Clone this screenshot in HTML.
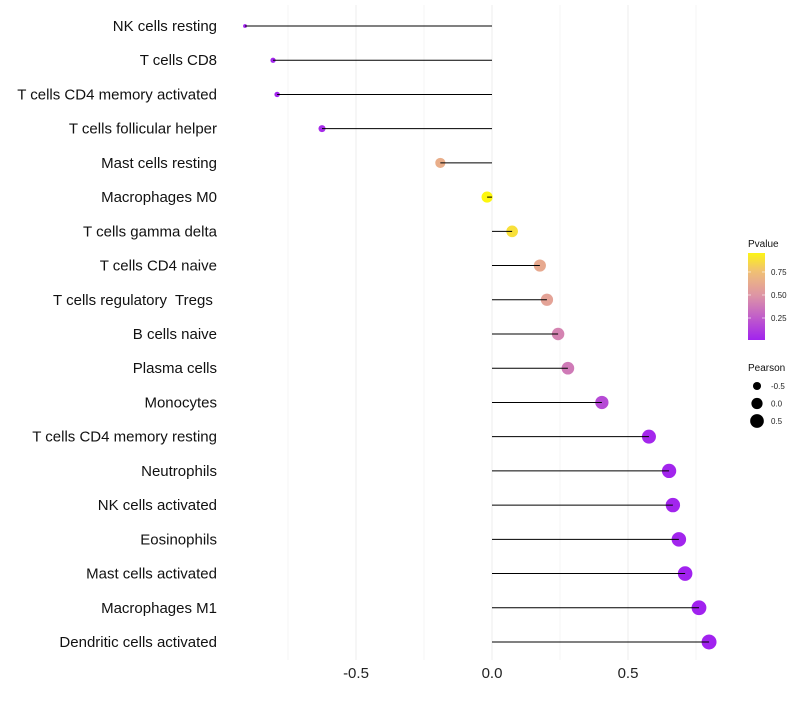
<!DOCTYPE html>
<html><head><meta charset="utf-8"><style>
body{margin:0;background:#fff;font-family:"Liberation Sans",sans-serif}
text{white-space:pre}
</style></head><body>
<svg id="chart" width="800" height="700" xmlns="http://www.w3.org/2000/svg"></svg>
<script>
const categories=["NK cells resting","T cells CD8","T cells CD4 memory activated","T cells follicular helper","Mast cells resting","Macrophages M0","T cells gamma delta","T cells CD4 naive","T cells regulatory  Tregs ","B cells naive","Plasma cells","Monocytes","T cells CD4 memory resting","Neutrophils","NK cells activated","Eosinophils","Mast cells activated","Macrophages M1","Dendritic cells activated"];
const pearson=[-0.908,-0.805,-0.79,-0.625,-0.19,-0.018,0.074,0.176,0.202,0.243,0.279,0.404,0.577,0.651,0.665,0.687,0.71,0.761,0.798];
const pvalue=[0.01,0.02,0.02,0.05,0.65,0.97,0.88,0.62,0.58,0.42,0.38,0.18,0.03,0.02,0.02,0.02,0.01,0.01,0.01];
const xTicks=[-0.5,0,0.5];
const xTickLabels=["-0.5","0.0","0.5"];
const pTicks=[0.25,0.5,0.75];
const sizeTicks=[-0.5,0,0.5];

const NS="http://www.w3.org/2000/svg";
const svg=document.getElementById('chart');
function mk(t,a,p){const e=document.createElementNS(NS,t);for(const k in a)e.setAttribute(k,a[k]);(p||svg).appendChild(e);return e;}
const xS=v=>492+v*272;
const yS=i=>26+i*(616/18);
const rS=v=>Math.sqrt(Math.max(1,31.5+30.6*v));
const stops=[[0,[160,32,240]],[0.5,[222,150,165]],[0.75,[240,190,120]],[1,[255,255,0]]];
function col(p){for(let i=1;i<stops.length;i++){if(p<=stops[i][0]){const[a,c1]=stops[i-1],[b,c2]=stops[i];const t=(p-a)/(b-a);return`rgb(${c1.map((c,j)=>Math.round(c+(c2[j]-c)*t)).join(',')})`;}}return'rgb(255,255,0)';}
const pY=p=>340-(p-0.011)/0.945*87;

[-0.75,-0.25,0.25,0.75].forEach(v=>{const l=mk('line',{x1:xS(v),x2:xS(v),y1:5,y2:660,stroke:'#f4f4f4','stroke-width':1});

});
xTicks.forEach((v,i)=>{const l=mk('line',{x1:xS(v),x2:xS(v),y1:5,y2:660,stroke:'#ececec','stroke-width':1});


const t=mk('text',{x:xS(v),y:678,'text-anchor':'middle','font-size':15,fill:'#222'});t.textContent=xTickLabels[i];

});

categories.forEach((c,i)=>{
const y=yS(i);
const t=mk('text',{x:217,y:y+5,'text-anchor':'end','font-size':15,fill:'#111'});t.textContent=c;


const d=mk('circle',{cx:xS(pearson[i]),cy:y,r:rS(pearson[i]),fill:col(pvalue[i])});


const l=mk('line',{x1:xS(0),x2:xS(pearson[i]),y1:y,y2:y,stroke:'#000','stroke-width':1});


});

const defs=mk('defs',{});
const g=mk('linearGradient',{id:'pg',x1:0,y1:1,x2:0,y2:0},defs);
for(let k=0;k<=10;k++){const p=0.011+k/10*0.945;mk('stop',{offset:k/10,'stop-color':col(p)},g);}
const lt=mk('text',{x:748,y:247,'font-size':10,fill:'#111'});lt.textContent='Pvalue';


const bar=mk('rect',{x:748,y:253,width:17,height:87,fill:'url(#pg)'});


pTicks.forEach(p=>{const y=pY(p);
mk('line',{x1:748,x2:751,y1:y,y2:y,stroke:'#fff','stroke-opacity':0.6});
mk('line',{x1:762,x2:765,y1:y,y2:y,stroke:'#fff','stroke-opacity':0.6});
const t=mk('text',{x:771,y:y+3,'font-size':8,fill:'#222'});t.textContent=p.toFixed(2);

});
const st=mk('text',{x:748,y:371,'font-size':10,fill:'#111'});st.textContent='Pearson';


sizeTicks.forEach((v,i)=>{const y=386+i*17.5;
const c=mk('circle',{cx:757,cy:y,r:rS(v),fill:'#000'});


const t=mk('text',{x:771,y:y+3,'font-size':8,fill:'#222'});t.textContent=v.toFixed(1);

});
</script>
</body></html>
